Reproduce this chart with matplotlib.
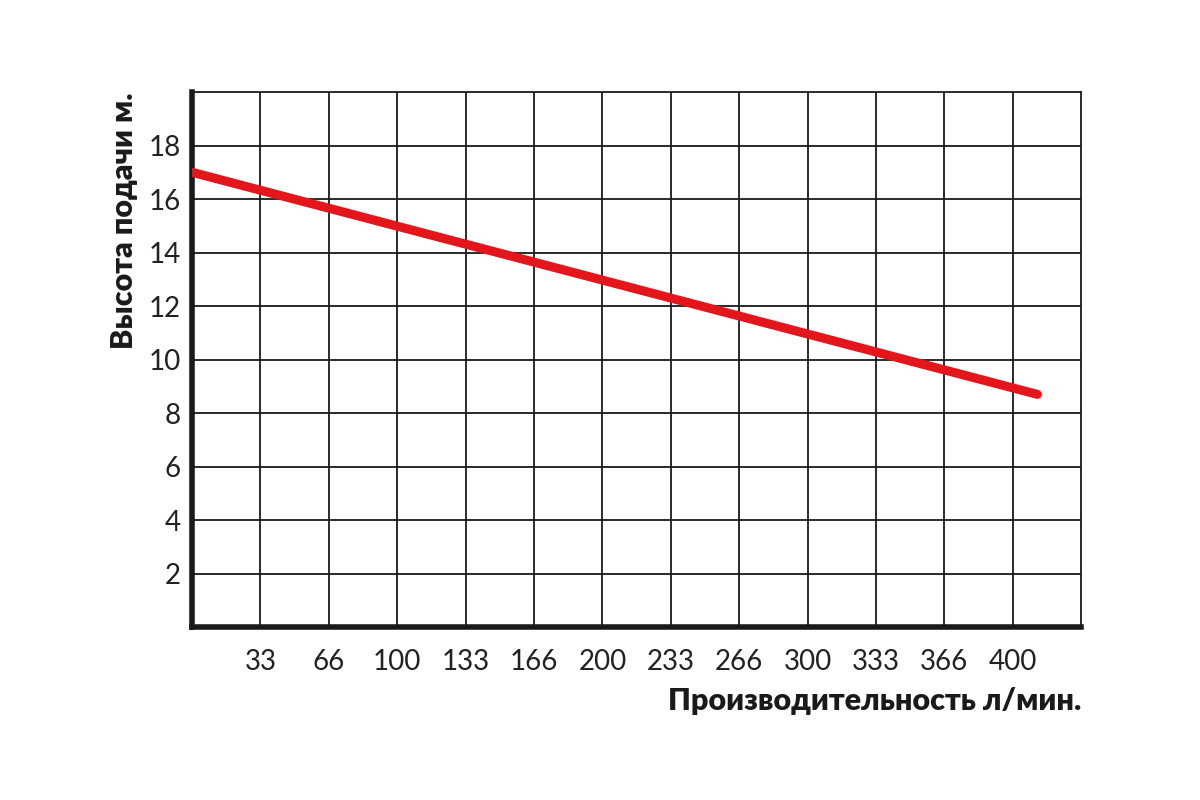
import numpy as np
import matplotlib
matplotlib.use("Agg")
import matplotlib.pyplot as plt

# flow (l/min) vs delivery head (m)
flow = [0, 412]
head = [17.0, 8.7]

x_tick_labels = ["33", "66", "100", "133", "166", "200", "233", "266", "300", "333", "366", "400"]
x_step = 100 / 3
y_ticks = [2, 4, 6, 8, 10, 12, 14, 16, 18]

plt.rcParams["font.family"] = ["Lato", "DejaVu Sans"]

fig = plt.figure(figsize=(12, 8), dpi=100)
ax = fig.add_axes([0.16, 0.216, 0.741, 0.669])

ax.plot(flow, head, color="#e3161b", lw=6.5, solid_capstyle="round", zorder=3)

ax.set_xlim(0, 13 * x_step)
ax.set_ylim(0, 20)
ax.set_xticks(np.arange(1, 13) * x_step)
ax.set_xticklabels(x_tick_labels)
ax.set_yticks(y_ticks)

ax.grid(True, which="major", color="#1a1a1a", lw=1.3)
ax.tick_params(which="both", length=0)
ax.tick_params(axis="x", pad=16, labelsize=20, colors="#222222")
ax.tick_params(axis="y", pad=8, labelsize=20, colors="#222222")

for side in ("left", "bottom"):
    ax.spines[side].set_linewidth(4)
    ax.spines[side].set_color("#1a1a1a")
for side in ("top", "right"):
    ax.spines[side].set_linewidth(1.3)
    ax.spines[side].set_color("#1a1a1a")

ax.set_xlabel("Производительность л/мин.", fontsize=22, fontweight="heavy",
              color="#1a1a1a", loc="right", labelpad=8)
ax.set_ylabel("Высота подачи м.", fontsize=22, fontweight="heavy",
              color="#1a1a1a", loc="top", labelpad=8)

fig.savefig("out.png", dpi=100)
